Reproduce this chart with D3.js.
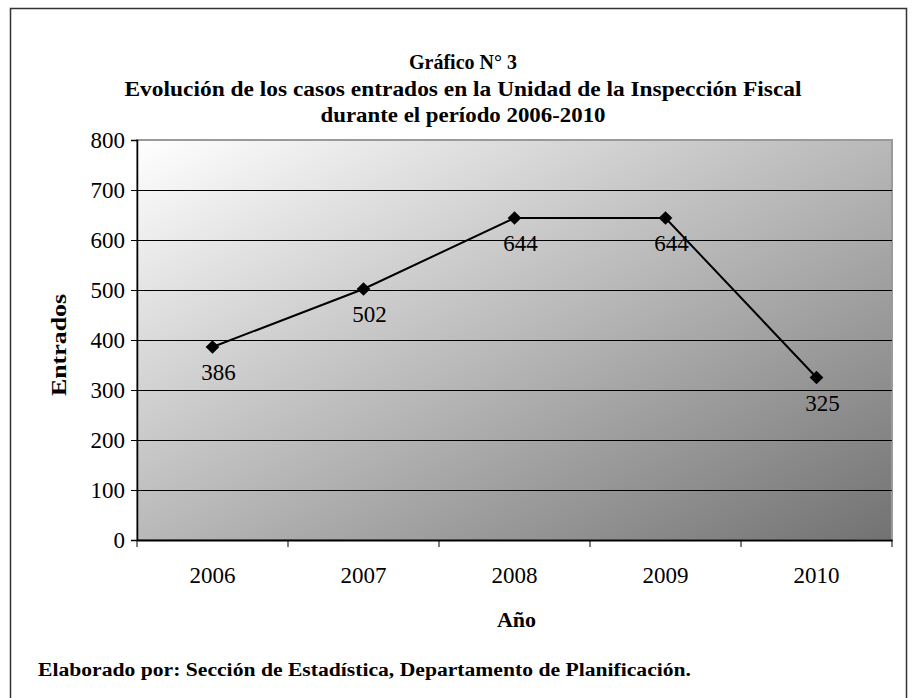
<!DOCTYPE html>
<html>
<head>
<meta charset="utf-8">
<script src="https://cdn.jsdelivr.net/npm/d3@7"></script>
<style>
  body { margin: 0; background: #fff; }
  text { font-family: "Liberation Serif", "Times New Roman", serif; fill: #000; }
</style>
</head>
<body>
<svg width="917" height="698"></svg>
<script>
const years = ['2006', '2007', '2008', '2009', '2010'];
const entrados = [386, 502, 644, 644, 325];
const yTicks = [0, 100, 200, 300, 400, 500, 600, 700, 800];
const titleLines = [
  'Gráfico N° 3',
  'Evolución de los casos entrados en la Unidad de la Inspección Fiscal',
  'durante el período 2006-2010'
];
const titleWidths = [108, 677, 285];

const svg = d3.select('svg');
const width = +svg.attr('width');
const height = +svg.attr('height');
const serif = '"Liberation Serif", "Times New Roman", serif';

// --- Frame ---
svg.append('rect')
  .attr('x', 10.5).attr('y', 8.5)
  .attr('width', 896).attr('height', 700)
  .attr('fill', '#fff')
  .attr('stroke', '#333').attr('stroke-width', 1.5);

// --- Plot area ---
const m = { left: 137, top: 140, right: 892, bottom: 540 };

const x = d3.scaleBand().domain(years).range([m.left, m.right]);
const y = d3.scaleLinear().domain([0, 800]).range([m.bottom, m.top]);

const defs = svg.append('defs');
const grad = defs.append('linearGradient')
  .attr('id', 'bg')
  .attr('x1', '0%').attr('y1', '0%')
  .attr('x2', '100%').attr('y2', '100%');
grad.append('stop').attr('offset', '0%').attr('stop-color', '#ffffff');
grad.append('stop').attr('offset', '100%').attr('stop-color', '#727272');

svg.append('rect')
  .attr('x', m.left).attr('y', m.top)
  .attr('width', m.right - m.left).attr('height', m.bottom - m.top)
  .attr('fill', 'url(#bg)')
  .attr('stroke', '#9a9a9a').attr('stroke-width', 2);

// --- Grid lines ---
svg.append('g')
  .selectAll('line')
  .data(yTicks.filter(d => d > 0 && d < 800))
  .join('line')
  .attr('x1', m.left).attr('x2', m.right)
  .attr('y1', d => y(d) + 0.5).attr('y2', d => y(d) + 0.5)
  .attr('stroke', '#000').attr('stroke-width', 1);

// --- Axes ---
const yAxis = svg.append('g')
  .attr('transform', `translate(${m.left},0)`)
  .call(d3.axisLeft(y).tickValues(yTicks).tickSize(6).tickPadding(6));
yAxis.select('.domain').attr('stroke', '#000').attr('stroke-width', 1.5);
yAxis.selectAll('.tick line').attr('stroke', '#000');
yAxis.selectAll('text')
  .style('font-family', serif)
  .style('font-size', '23px');

const xAxis = svg.append('g')
  .attr('transform', `translate(0,${m.bottom})`)
  .call(d3.axisBottom(x).tickSize(0).tickPadding(27));
xAxis.select('.domain').attr('stroke', '#000').attr('stroke-width', 2);
xAxis.selectAll('text')
  .style('font-family', serif)
  .style('font-size', '23px');

// category boundary ticks
const bounds = years.map(d => x(d)).concat([m.right]);
svg.append('g')
  .selectAll('line')
  .data(bounds)
  .join('line')
  .attr('x1', d => d).attr('x2', d => d)
  .attr('y1', m.bottom).attr('y2', m.bottom + 7)
  .attr('stroke', '#000').attr('stroke-width', 1);

// --- Line + markers ---
const cx = d => x(d) + x.bandwidth() / 2;
const pts = years.map((d, i) => [cx(d), y(entrados[i])]);

svg.append('path')
  .datum(pts)
  .attr('d', d3.line())
  .attr('fill', 'none')
  .attr('stroke', '#000')
  .attr('stroke-width', 2);

svg.append('g')
  .selectAll('path')
  .data(pts)
  .join('path')
  .attr('transform', d => `translate(${d[0]},${d[1]})`)
  .attr('d', d3.symbol(d3.symbolDiamond2, 120))
  .attr('fill', '#000');

svg.append('g')
  .selectAll('text')
  .data(entrados)
  .join('text')
  .attr('x', (d, i) => pts[i][0] + 6)
  .attr('y', (d, i) => pts[i][1] + 33)
  .attr('text-anchor', 'middle')
  .style('font-size', '23px')
  .text(d => d);

// --- Titles ---
svg.append('g')
  .selectAll('text')
  .data(titleLines)
  .join('text')
  .attr('x', 463)
  .attr('y', (d, i) => 69 + i * 26.5)
  .attr('text-anchor', 'middle')
  .attr('textLength', (d, i) => titleWidths[i])
  .attr('lengthAdjust', 'spacingAndGlyphs')
  .style('font-size', '21px')
  .style('font-weight', 'bold')
  .text(d => d);

svg.append('text')
  .attr('transform', `translate(66,345) rotate(-90)`)
  .attr('text-anchor', 'middle')
  .attr('textLength', 102)
  .attr('lengthAdjust', 'spacingAndGlyphs')
  .style('font-size', '22px')
  .style('font-weight', 'bold')
  .text('Entrados');

svg.append('text')
  .attr('x', (m.left + m.right) / 2 + 2)
  .attr('y', 627)
  .attr('text-anchor', 'middle')
  .style('font-size', '22px')
  .style('font-weight', 'bold')
  .text('Año');

svg.append('text')
  .attr('x', 38)
  .attr('y', 676)
  .attr('textLength', 653)
  .attr('lengthAdjust', 'spacingAndGlyphs')
  .style('font-size', '18px')
  .style('font-weight', 'bold')
  .text('Elaborado por: Sección de Estadística, Departamento de Planificación.');
</script>
</body>
</html>
